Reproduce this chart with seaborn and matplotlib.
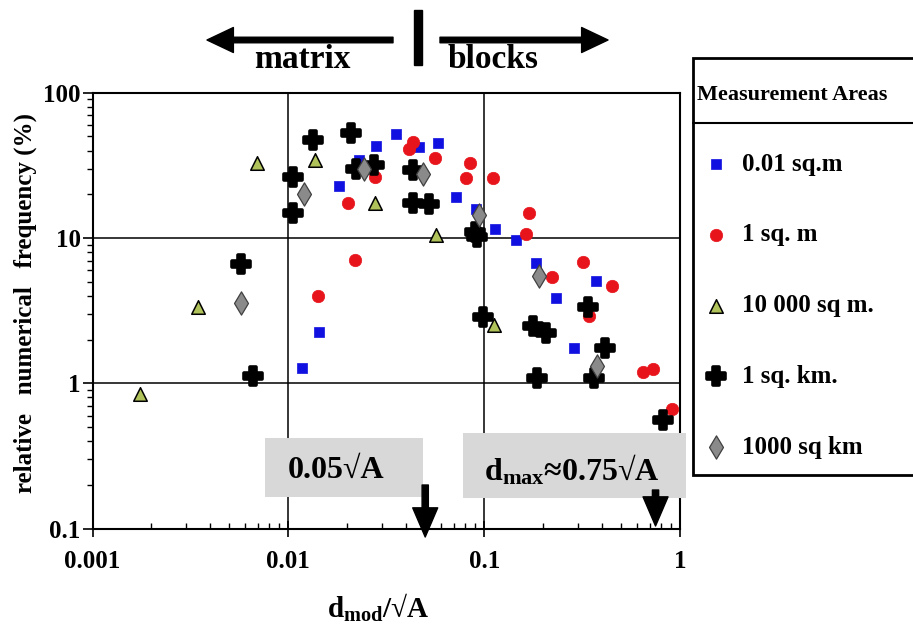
import matplotlib
matplotlib.use("Agg")
import matplotlib.pyplot as plt
import matplotlib.patches as mpatches
from matplotlib.lines import Line2D
from matplotlib.ticker import NullFormatter
import seaborn as sns

# values: d_mod / sqrt(A)  vs  relative frequency (%)
blue_x = [0.0117, 0.0144, 0.0182, 0.0230, 0.0281, 0.0353, 0.0467, 0.0582,
          0.0718, 0.091, 0.114, 0.146, 0.184, 0.233, 0.286, 0.373]
blue_y = [1.28, 2.26, 22.8, 34.4, 43.2, 51.7, 42.5, 45.3,
          19.2, 15.8, 11.5, 9.7, 6.7, 3.88, 1.74, 5.08]

red_x = [0.0141, 0.0201, 0.0219, 0.0277, 0.0415, 0.0435, 0.0561, 0.0809, 0.0847,
         0.111, 0.163, 0.170, 0.221, 0.319, 0.345, 0.449, 0.646, 0.726, 0.908]
red_y = [4.0, 17.5, 7.1, 26.4, 40.8, 46.0, 35.3, 26.0, 32.7,
         26.0, 10.7, 14.9, 5.36, 6.87, 2.9, 4.68, 1.2, 1.25, 0.67]

tri_x = [0.00175, 0.00347, 0.0069, 0.0137, 0.0277, 0.0570, 0.112]
tri_y = [0.85, 3.37, 33.0, 34.4, 17.5, 10.5, 2.5]

black_x = [0.00575, 0.00662, 0.0106, 0.0106, 0.0133, 0.0209, 0.0222, 0.0274,
           0.0432, 0.0435, 0.0525, 0.090, 0.092, 0.099, 0.177, 0.187, 0.207,
           0.340, 0.364, 0.414, 0.817]
black_y = [6.6, 1.13, 26.4, 14.9, 47.0, 53.0, 29.7, 31.6,
           17.3, 29.4, 17.1, 11.0, 10.2, 2.87, 2.48, 1.09, 2.23,
           3.37, 1.08, 1.74, 0.56]

gray_x = [0.00575, 0.0120, 0.0244, 0.0485, 0.0946, 0.191, 0.378]
gray_y = [3.59, 20.0, 29.7, 27.4, 14.4, 5.5, 1.32]

labels = ["0.01 sq.m", "1 sq. m", "10 000 sq m.", "1 sq. km.", "1000 sq km"]
xtick_vals = [0.001, 0.01, 0.1, 1]
xtick_labels = ["0.001", "0.01", "0.1", "1"]
ytick_vals = [0.1, 1, 10, 100]
ytick_labels = ["0.1", "1", "10", "100"]
marks_x = [0.05, 0.75]

series = {
    labels[0]: (blue_x, blue_y),
    labels[1]: (red_x, red_y),
    labels[3]: (black_x, black_y),
    labels[2]: (tri_x, tri_y),
    labels[4]: (gray_x, gray_y),
}
styles = {
    labels[0]: dict(marker="s", s=55, color="#1010e0", edgecolor="#1010e0", linewidth=0.5, zorder=3),
    labels[1]: dict(marker="o", s=80, color="#e8141c", edgecolor="#e8141c", linewidth=0.5, zorder=3),
    labels[3]: dict(marker="P", s=150, color="black", edgecolor="black", linewidth=2.6, zorder=4),
    labels[2]: dict(marker="^", s=95, color="#b0c25a", edgecolor="black", linewidth=1.1, zorder=5),
    labels[4]: dict(marker="d", s=140, color="#8a8a8a", edgecolor="#404040", linewidth=0.9, zorder=6),
}

sns.set_style("white")
plt.rcParams["font.family"] = ["Liberation Serif", "DejaVu Serif"]
plt.rcParams["font.weight"] = "bold"
plt.rcParams["mathtext.fontset"] = "custom"
plt.rcParams["mathtext.rm"] = "Liberation Serif:bold"
plt.rcParams["mathtext.bf"] = "Liberation Serif:bold"
plt.rcParams["mathtext.it"] = "Liberation Serif:bold"
for key in ["text.color", "axes.labelcolor", "xtick.color", "ytick.color"]:
    plt.rcParams[key] = "black"

W, H = 913, 631
fig = plt.figure(figsize=(W / 100, H / 100), dpi=100)
ax = fig.add_axes([92.5 / W, 1 - 528.6 / H, 587.5 / W, 435.9 / H])

for name, (xs, ys) in series.items():
    sns.scatterplot(x=xs, y=ys, ax=ax, label=name, legend=False, clip_on=False, **styles[name])

ax.set_xscale("log")
ax.set_yscale("log")
ax.set_xlim(0.001, 1)
ax.set_ylim(0.1, 100)
ax.set_xticks(xtick_vals, xtick_labels)
ax.set_yticks(ytick_vals, ytick_labels)
ax.xaxis.set_minor_formatter(NullFormatter())
ax.yaxis.set_minor_formatter(NullFormatter())
ax.grid(True, which="major", color="black", lw=1.1)
ax.set_axisbelow(True)
for sp in ax.spines.values():
    sp.set_color("black")
    sp.set_linewidth(1.5)
ax.tick_params(axis="x", which="major", bottom=True, direction="inout", length=11, width=1.2, labelsize=18, pad=10)
ax.tick_params(axis="x", which="minor", bottom=True, direction="in", length=4, width=1)
ax.tick_params(axis="y", which="major", left=True, direction="out", length=7, width=1.2, labelsize=18, pad=1.5)
ax.tick_params(axis="y", which="minor", left=True, direction="out", length=4, width=1)
if ax.get_legend():
    ax.get_legend().remove()

# axis titles
fig.text(378 / W, 1 - 608 / H, r"$\mathbf{d_{mod}}$/√A", ha="center", va="center", fontsize=21)
fig.text(25 / W, 1 - 303 / H, "relative   numerical   frequency (%)", rotation=90,
         ha="center", va="center", fontsize=18)

# matrix / blocks header
arrow_kw = dict(facecolor="black", edgecolor="black", width=4, headwidth=18, headlength=19, shrink=0)
ax.annotate("", xy=(207, H - 40), xytext=(393, H - 40), xycoords="figure pixels",
            textcoords="figure pixels", arrowprops=arrow_kw, annotation_clip=False)
ax.annotate("", xy=(608, H - 40), xytext=(440, H - 40), xycoords="figure pixels",
            textcoords="figure pixels", arrowprops=arrow_kw, annotation_clip=False)
fig.add_artist(mpatches.Rectangle((414 / W, 1 - 65 / H), 8 / W, 55 / H,
                                  transform=fig.transFigure, color="black"))
fig.text(302 / W, 1 - 68 / H, "matrix", ha="center", va="baseline", fontsize=24)
fig.text(493 / W, 1 - 68 / H, "blocks", ha="center", va="baseline", fontsize=24)

# grey boxes with down arrows
for (x0, y0, x1, y1) in [(265, 438, 423, 497), (463, 433, 686, 498)]:
    ax.add_patch(mpatches.Rectangle((x0 / W, 1 - y1 / H), (x1 - x0) / W, (y1 - y0) / H,
                                    transform=fig.transFigure, facecolor="#d8d8d8",
                                    edgecolor="none", zorder=7, clip_on=False))
fig.text(336 / W, 1 - 470 / H, "0.05√A", ha="center", va="center", fontsize=23)
fig.text(572 / W, 1 - 470 / H, r"$\mathbf{d_{max}}$≈0.75√A", ha="center", va="center", fontsize=23)
down_kw = dict(facecolor="black", edgecolor="black", width=4.5, headwidth=18, headlength=21, shrink=0)
for xm, (ytail, ytip) in zip(marks_x, [(485, 537), (490, 526)]):
    ax.annotate("", xy=(xm, H - ytip), xytext=(xm, H - ytail),
                xycoords=("data", "figure pixels"), textcoords=("data", "figure pixels"),
                arrowprops=down_kw, annotation_clip=False, zorder=8)

# legend box
fig.add_artist(mpatches.Rectangle((693 / W, 1 - 475 / H), 225 / W, 417 / H,
                                  transform=fig.transFigure, facecolor="white",
                                  edgecolor="black", lw=2))
fig.add_artist(Line2D([693 / W, 1], [1 - 123 / H, 1 - 123 / H], color="black", lw=1.5,
                      transform=fig.transFigure))
handles, labs = ax.get_legend_handles_labels()
hmap = dict(zip(labs, handles))
fig.legend([hmap[l] for l in labels], labels, loc="upper left",
           bbox_to_anchor=(697 / W, 1 - 85 / H), frameon=False, borderaxespad=0,
           title="Measurement Areas", title_fontproperties={"weight": "bold", "size": 16},
           fontsize=18, labelspacing=1.91, handlelength=1.5, handletextpad=0.3,
           borderpad=0, alignment="left", scatterpoints=1)

fig.savefig("out.png", dpi=100)
